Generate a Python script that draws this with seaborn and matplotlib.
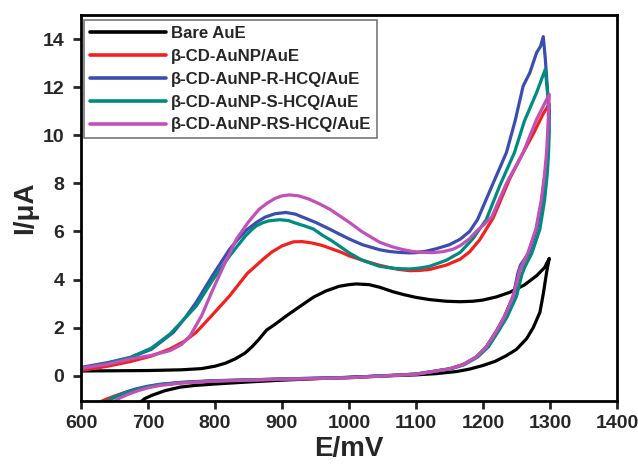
import matplotlib
matplotlib.use("Agg")
import matplotlib.pyplot as plt
import seaborn as sns
import pandas as pd

# Cyclic voltammograms: forward (anodic) sweep then reverse sweep, potential in mV, current in uA
series_names = [
    "Bare AuE",
    "β-CD-AuNP/AuE",
    "β-CD-AuNP-R-HCQ/AuE",
    "β-CD-AuNP-S-HCQ/AuE",
    "β-CD-AuNP-RS-HCQ/AuE",
]
series_colors = ["#000000", "#f2201f", "#3b4db0", "#008b7f", "#c250b9"]

bare_fwd_E = [600, 650, 700, 750, 780, 800, 815, 830, 845, 855, 865, 877, 890, 907, 925, 947, 965,
              985, 1000, 1011, 1030, 1046, 1065, 1081, 1100, 1120, 1145, 1166, 1185, 1200, 1220, 1240,
              1262, 1280, 1292, 1299]
bare_fwd_I = [0.20, 0.21, 0.22, 0.25, 0.30, 0.40, 0.52, 0.70, 0.95, 1.20, 1.50, 1.90, 2.15, 2.50, 2.85, 3.27, 3.52,
              3.72, 3.79, 3.82, 3.79, 3.68, 3.50, 3.38, 3.26, 3.17, 3.10, 3.08, 3.10, 3.15, 3.28, 3.47,
              3.78, 4.16, 4.50, 4.88]
bare_rev_E = [1299, 1297, 1295, 1290, 1285, 1275, 1265, 1250, 1235, 1218, 1200, 1180, 1161, 1130, 1100,
              1046, 1000, 950, 900, 847, 800, 770, 748, 725, 705, 695, 688]
bare_rev_I = [4.88, 4.60, 4.30, 3.40, 2.64, 2.00, 1.54, 1.10, 0.84, 0.60, 0.43, 0.28, 0.18, 0.09, 0.04,
              -0.01, -0.06, -0.12, -0.18, -0.26, -0.34, -0.40, -0.47, -0.62, -0.82, -0.95, -1.10]

red_fwd_E = [600, 640, 673, 705, 733, 755, 772, 795, 822, 848, 872, 885, 900, 917, 930, 945, 960, 972,
             988, 1001, 1015, 1030, 1045, 1060, 1075, 1091, 1105, 1120, 1145, 1166, 1180, 1195, 1215,
             1240, 1260, 1275, 1290, 1299]
red_fwd_I = [0.22, 0.40, 0.59, 0.82, 1.12, 1.45, 1.81, 2.50, 3.33, 4.25, 4.85, 5.15, 5.40, 5.57, 5.58, 5.52, 5.42, 5.30,
             5.14, 4.98, 4.85, 4.72, 4.60, 4.50, 4.42, 4.37, 4.38, 4.42, 4.60, 4.85, 5.15, 5.65, 6.55,
             8.20, 9.28, 10.05, 10.90, 11.30]
red_rev_E = [1299, 1298, 1296, 1293, 1288, 1280, 1268, 1255, 1245, 1232, 1220, 1205, 1190, 1170,
             1150, 1100, 1050, 1000, 950, 900, 850, 800, 750, 718, 698, 680, 665, 650, 637, 627]
red_rev_I = [11.30, 10.40, 9.30, 8.40, 7.30, 6.10, 5.10, 4.40, 3.30, 2.45, 1.85, 1.20, 0.78, 0.46,
             0.29, 0.07, -0.01, -0.08, -0.11, -0.14, -0.18, -0.21, -0.29, -0.37, -0.47, -0.58, -0.70, -0.84, -0.98, -1.10]

blue_fwd_E = [600, 640, 673, 705, 738, 755, 772, 797, 822, 835, 848, 862, 875, 890, 906, 920, 935, 950, 971,
              985, 1001, 1020, 1046, 1060, 1075, 1090, 1100, 1115, 1130, 1150, 1166, 1180, 1192, 1212,
              1235, 1248, 1260, 1270, 1280, 1286, 1290]
blue_fwd_I = [0.35, 0.55, 0.76, 1.10, 1.81, 2.40, 3.06, 4.20, 5.27, 5.70, 6.08, 6.38, 6.60, 6.74, 6.79, 6.72, 6.55, 6.38, 6.10,
              5.90, 5.68, 5.45, 5.24, 5.17, 5.13, 5.11, 5.12, 5.18, 5.28, 5.45, 5.68, 6.00, 6.50, 7.80,
              9.28, 10.60, 12.05, 12.60, 13.43, 13.70, 14.10]
blue_rev_E = [1290, 1293, 1295, 1297, 1299, 1298, 1296, 1293, 1288, 1280, 1268, 1256, 1252, 1245, 1232,
              1220, 1205, 1190, 1170, 1150, 1100, 1050, 1000, 950, 900, 850, 800, 750, 718, 698, 680,
              668, 655, 645, 640]
blue_rev_I = [14.10, 13.20, 12.40, 11.60, 11.00, 10.20, 9.30, 8.40, 7.30, 6.10, 5.10, 4.60, 4.25, 3.30, 2.45,
              1.85, 1.20, 0.78, 0.46, 0.29, 0.07, 0.00, -0.07, -0.10, -0.13, -0.17, -0.20, -0.27, -0.35, -0.44, -0.56,
              -0.67, -0.82, -0.96, -1.10]

teal_fwd_E = [600, 640, 673, 705, 733, 752, 772, 797, 822, 835, 845, 855, 862, 872, 880, 897, 910, 920, 935, 947,
              960, 975, 1001, 1020, 1046, 1070, 1091, 1105, 1120, 1145, 1166, 1185, 1205, 1225, 1247,
              1262, 1280, 1293]
teal_fwd_I = [0.30, 0.52, 0.76, 1.15, 1.74, 2.30, 2.90, 4.00, 4.99, 5.45, 5.80, 6.08, 6.24, 6.37, 6.44, 6.49, 6.45, 6.35, 6.22, 6.10,
              5.85, 5.60, 5.10, 4.80, 4.55, 4.46, 4.44, 4.48, 4.55, 4.80, 5.13, 5.70, 6.50, 7.90, 9.28,
              10.60, 11.77, 12.74]
teal_rev_E = [1293, 1296, 1298, 1299, 1298, 1296, 1292, 1285, 1273, 1262, 1258, 1250, 1236,
              1223, 1208, 1192, 1172, 1152, 1100, 1050, 1000, 950, 900, 850, 800, 750, 718, 698, 680,
              665, 652, 643, 637]
teal_rev_I = [12.74, 11.90, 11.00, 10.20, 9.30, 8.40, 7.30, 6.10, 5.10, 4.50, 4.20, 3.30, 2.45,
              1.85, 1.20, 0.78, 0.46, 0.29, 0.07, 0.00, -0.07, -0.10, -0.13, -0.17, -0.21, -0.28, -0.37, -0.47, -0.60,
              -0.72, -0.86, -0.98, -1.10]

mag_fwd_E = [600, 640, 673, 705, 733, 750, 763, 780, 797, 815, 832, 850, 866, 878, 890, 900, 911, 925, 940,
             955, 971, 985, 1001, 1020, 1046, 1065, 1080, 1095, 1110, 1125, 1140, 1155, 1166, 1180, 1190, 1200,
             1213, 1235, 1260, 1280, 1299]
mag_fwd_I = [0.32, 0.48, 0.70, 0.85, 1.05, 1.30, 1.67, 2.50, 3.60, 4.70, 5.68, 6.40, 6.93, 7.18, 7.38, 7.48, 7.52, 7.48, 7.35,
             7.16, 6.93, 6.67, 6.37, 5.98, 5.55, 5.36, 5.25, 5.17, 5.13, 5.12, 5.16, 5.26, 5.41, 5.70, 6.00, 6.25,
             6.60, 8.00, 9.28, 10.66, 11.70]
mag_rev_E = [1299, 1297, 1295, 1292, 1287, 1279, 1267, 1255, 1245, 1232, 1220, 1205, 1190, 1170,
             1150, 1100, 1050, 1000, 950, 900, 850, 800, 750, 718, 700, 685, 672, 662, 654, 648]
mag_rev_I = [11.70, 10.40, 9.30, 8.40, 7.30, 6.10, 5.10, 4.40, 3.30, 2.45, 1.85, 1.20, 0.78, 0.46,
             0.29, 0.07, -0.01, -0.08, -0.11, -0.14, -0.18, -0.22, -0.30, -0.40, -0.50, -0.62, -0.75, -0.87, -0.98, -1.10]

x_ticks = [600, 700, 800, 900, 1000, 1100, 1200, 1300, 1400]
y_ticks = [0, 2, 4, 6, 8, 10, 12, 14]

curves = [
    (bare_fwd_E + bare_rev_E, bare_fwd_I + bare_rev_I),
    (red_fwd_E + red_rev_E, red_fwd_I + red_rev_I),
    (blue_fwd_E + blue_rev_E, blue_fwd_I + blue_rev_I),
    (teal_fwd_E + teal_rev_E, teal_fwd_I + teal_rev_I),
    (mag_fwd_E + mag_rev_E, mag_fwd_I + mag_rev_I),
]
frames = []
for name, (e, i) in zip(series_names, curves):
    frames.append(pd.DataFrame({"E": e, "I": i, "electrode": name, "step": range(len(e))}))
df = pd.concat(frames, ignore_index=True)

sns.set_style("ticks")
plt.rcParams["font.family"] = ["Liberation Sans", "DejaVu Sans"]
plt.rcParams["font.weight"] = "bold"

fig = plt.figure(figsize=(6.38, 4.68), dpi=100)
ax = fig.add_axes([0.127, 0.143, 0.840, 0.825])

sns.lineplot(data=df, x="E", y="I", hue="electrode", hue_order=series_names,
             palette=series_colors, sort=False, estimator=None, linewidth=2.3, ax=ax)

ax.set_xlim(600, 1400)
ax.set_ylim(-1.05, 15.0)
ax.set_xticks(x_ticks)
ax.set_yticks(y_ticks)
ax.tick_params(axis="both", direction="out", length=6, width=2, labelsize=14,
               top=False, right=False)
ax.tick_params(axis="y", pad=6)
ax.tick_params(axis="x", pad=4)
for lab in ax.get_xticklabels() + ax.get_yticklabels():
    lab.set_fontweight("bold")
for sp in ax.spines.values():
    sp.set_linewidth(2)
    sp.set_color("black")
    sp.set_visible(True)

ax.set_xlabel("E/mV", fontsize=20, fontweight="bold", labelpad=3)
ax.set_ylabel("I/μA", fontsize=20, fontweight="bold", labelpad=3)

leg = ax.legend(loc="upper left", bbox_to_anchor=(0.006, 0.987), frameon=True, fancybox=False,
                handlelength=4.5, handletextpad=0.3, labelspacing=0.47, borderpad=0.35,
                prop={"size": 12.1, "weight": "bold"}, borderaxespad=0)
leg.get_frame().set_edgecolor("#555555")
leg.get_frame().set_linewidth(1.2)
for h in leg.get_lines():
    h.set_linewidth(2.6)

fig.savefig("out.png", dpi=100)
